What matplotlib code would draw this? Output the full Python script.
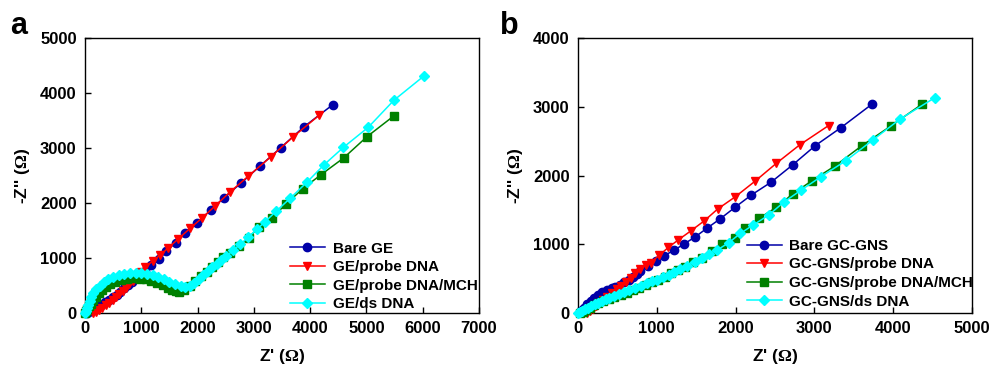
import matplotlib
matplotlib.use("Agg")
import matplotlib.pyplot as plt

plt.rcParams['font.family'] = ['Liberation Sans', 'DejaVu Sans']
plt.rcParams['font.weight'] = 'bold'
plt.rcParams['mathtext.fontset'] = 'custom'
plt.rcParams['mathtext.rm'] = 'Liberation Serif'

# ---- panel a: GE ----
a_bare_x = [30, 60, 100, 150, 210, 280, 350, 420, 490, 560, 630, 700, 770, 840, 910, 985, 1070,
            1180, 1317, 1442, 1608, 1780, 1988, 2231, 2463, 2766, 3110, 3478, 3887, 4398]
a_bare_y = [5, 15, 35, 65, 105, 150, 195, 240, 285, 335, 390, 450, 510, 570, 630, 695, 770,
            870, 978, 1120, 1280, 1450, 1640, 1870, 2090, 2357, 2673, 3007, 3384, 3785]

a_probe_x = [140, 190, 250, 310, 370, 430, 490, 550, 610, 670, 730, 790, 850, 920, 1000, 1074,
             1199, 1329, 1478, 1656, 1863, 2077, 2315, 2576, 2902, 3300, 3703, 4160]
a_probe_y = [0, 20, 55, 95, 140, 185, 235, 285, 340, 400, 460, 520, 585, 660, 740, 830,
             948, 1049, 1184, 1347, 1537, 1725, 1950, 2200, 2490, 2840, 3208, 3597]

a_mch_x = [0, 20, 40, 70, 100, 140, 190, 240, 300, 370, 450, 540, 640, 750, 860, 970, 1080,
           1180, 1280, 1380, 1470, 1550, 1620, 1662, 1760, 1860, 1960, 2060, 2160, 2260, 2360,
           2460, 2575, 2741, 2908, 3086, 3323, 3571, 3869, 4184, 4593, 5009, 5490]
a_mch_y = [0, 30, 70, 120, 170, 230, 300, 360, 420, 480, 530, 570, 600, 620, 628, 625, 610,
           585, 550, 505, 460, 420, 395, 387, 420, 490, 580, 670, 750, 840, 930,
           1010, 1096, 1218, 1373, 1555, 1731, 1982, 2261, 2509, 2818, 3206, 3587]

a_ds_x = [0, 15, 30, 50, 80, 110, 150, 200, 260, 330, 410, 500, 600, 700, 800, 900, 1000,
          1100, 1200, 1300, 1400, 1500, 1600, 1700, 1780, 1860, 1940, 2020, 2100, 2180, 2260,
          2340, 2420, 2510, 2634, 2760, 2900, 3050, 3199, 3395, 3643, 3940, 4248, 4591, 5031,
          5488, 6027]
a_ds_y = [0, 40, 90, 150, 220, 290, 360, 430, 500, 560, 610, 650, 690, 715, 730, 735, 730,
          715, 690, 655, 615, 570, 530, 495, 480, 500, 550, 620, 690, 760, 830,
          900, 965, 1030, 1145, 1250, 1380, 1520, 1659, 1850, 2085, 2376, 2697, 3013, 3376,
          3869, 4315]

# ---- panel b: GC-GNS ----
b_bare_x = [20, 50, 80, 120, 160, 200, 250, 305, 372, 430, 474, 530, 590, 643, 700, 750, 791,
            888, 990, 1096, 1222, 1349, 1489, 1633, 1806, 1997, 2200, 2453, 2728, 3012, 3338, 3731]
b_bare_y = [10, 40, 80, 130, 180, 225, 265, 306, 335, 360, 379, 410, 445, 476, 520, 570, 608,
            685, 753, 836, 914, 1006, 1108, 1230, 1371, 1541, 1716, 1905, 2158, 2435, 2697, 3038]

b_probe_x = [120, 150, 185, 225, 270, 320, 372, 430, 490, 550, 610, 670, 730, 790, 860, 922,
             1032, 1146, 1269, 1434, 1603, 1772, 1997, 2250, 2517, 2813, 3181]
b_probe_y = [0, 25, 60, 100, 145, 195, 240, 290, 345, 400, 455, 515, 580, 640, 700, 734,
             841, 953, 1060, 1196, 1341, 1512, 1691, 1920, 2177, 2445, 2727]

b_mch_x = [30, 60, 100, 150, 200, 260, 320, 390, 460, 540, 620, 700, 780, 860, 940, 1020, 1100,
           1180, 1270, 1358, 1463, 1569, 1701, 1827, 1988, 2124, 2293, 2517, 2728, 2970, 3266,
           3604, 3972, 4366]
b_mch_y = [0, 15, 40, 75, 110, 145, 175, 205, 235, 265, 295, 330, 370, 410, 445, 480, 525,
           580, 630, 674, 747, 795, 904, 1001, 1098, 1230, 1375, 1536, 1735, 1925, 2143,
           2435, 2722, 3038]

b_ds_x = [0, 20, 50, 90, 130, 170, 210, 250, 300, 350, 400, 460, 520, 584, 650, 720, 795, 870,
          940, 1006, 1080, 1150, 1220, 1300, 1387, 1489, 1574, 1660, 1764, 1912, 2060, 2221,
          2420, 2618, 2834, 3084, 3401, 3744, 4091, 4526]
b_ds_y = [0, 20, 35, 55, 80, 105, 130, 150, 175, 200, 225, 250, 275, 300, 330, 365, 400, 435,
          460, 485, 520, 560, 600, 640, 690, 744, 802, 860, 914, 1021, 1157, 1278,
          1424, 1618, 1789, 1983, 2216, 2518, 2824, 3130]

colors = ['#0000A8', '#FF0000', '#008000', '#00FFFF']
markers = ['o', 'v', 's', 'D']
msizes = [6, 6, 5.5, 5.5]


def draw_panel(ax, series, labels, xmax, ymax, leg_anchor):
    for (x, y), lab, c, m, ms in zip(series, labels, colors, markers, msizes):
        ax.plot(x, y, color=c, marker=m, markersize=ms, linewidth=1.1,
                label=lab, clip_on=False, zorder=3)
    ax.set_xlim(0, xmax)
    ax.set_ylim(0, ymax)
    ax.set_xticks(range(0, xmax + 1, 1000))
    ax.set_yticks(range(0, ymax + 1, 1000))
    ax.tick_params(direction='in', length=4, width=1, labelsize=12, pad=6)
    for lbl in ax.get_xticklabels() + ax.get_yticklabels():
        lbl.set_fontweight('bold')
    for sp in ax.spines.values():
        sp.set_linewidth(1.0)
    ax.set_xlabel("Z' ($\\Omega$)", fontsize=12.5, fontweight='bold', labelpad=8)
    ax.set_ylabel("-Z'' ($\\Omega$)", fontsize=12.5, fontweight='bold', labelpad=6)
    leg = ax.legend(loc='lower left', bbox_to_anchor=leg_anchor, frameon=False,
                    fontsize=11, handlelength=2.3, handletextpad=0.5,
                    labelspacing=0.3, borderpad=0.0, borderaxespad=0.0)
    for t in leg.get_texts():
        t.set_fontweight('bold')


fig = plt.figure(figsize=(9.91, 3.71), dpi=100)
ax1 = fig.add_axes([0.0858, 0.1563, 0.3976, 0.7412])
ax2 = fig.add_axes([0.5832, 0.1563, 0.3976, 0.7412])

draw_panel(ax1, [(a_bare_x, a_bare_y), (a_probe_x, a_probe_y), (a_mch_x, a_mch_y), (a_ds_x, a_ds_y)],
           ['Bare GE', 'GE/probe DNA', 'GE/probe DNA/MCH', 'GE/ds DNA'], 7000, 5000, (0.52, 0.006))
draw_panel(ax2, [(b_bare_x, b_bare_y), (b_probe_x, b_probe_y), (b_mch_x, b_mch_y), (b_ds_x, b_ds_y)],
           ['Bare GC-GNS', 'GC-GNS/probe DNA', 'GC-GNS/probe DNA/MCH', 'GC-GNS/ds DNA'], 5000, 4000, (0.428, 0.016))

fig.text(0.010, 0.93, 'a', fontsize=22, fontweight='bold', va='center')
fig.text(0.505, 0.93, 'b', fontsize=22, fontweight='bold', va='center')

fig.savefig('out.png', dpi=100)
